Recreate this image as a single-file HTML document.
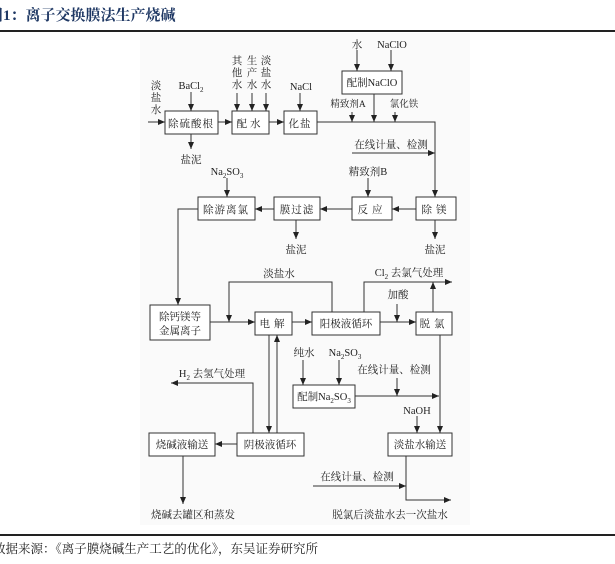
<!DOCTYPE html>
<html><head><meta charset="utf-8"><style>
html,body{margin:0;padding:0;background:#fff;}
body{width:615px;height:559px;position:relative;overflow:hidden;font-family:"Liberation Serif","Noto Serif CJK SC",serif;}
svg text{font-family:"Liberation Serif","Noto Serif CJK SC",serif;fill:#222;font-size:10.5px;}
</style></head><body>
<svg width="615" height="559" viewBox="0 0 615 559" xmlns="http://www.w3.org/2000/svg">
<defs><marker id="a" markerWidth="8" markerHeight="8" refX="7" refY="4" orient="auto" markerUnits="userSpaceOnUse"><path d="M0,1 L7,4 L0,7 Z" fill="#222"/></marker></defs>
<text x="-12" y="20" style="font-size:15px;font-weight:bold;fill:#1f3864">图1：离子交换膜法生产烧碱</text>
<rect x="0" y="30" width="615" height="2" fill="#222"/>
<rect x="140" y="33" width="330" height="492" fill="#fafafa"/>
<rect x="0" y="534" width="615" height="2" fill="#222"/>
<text x="-7" y="553" style="font-size:12.5px">数据来源：《离子膜烧碱生产工艺的优化》，东吴证券研究所</text>
<g fill="#fff" stroke="#333" stroke-width="1">
<rect x="165" y="111" width="53" height="23"/><rect x="232" y="111" width="37" height="23"/><rect x="284" y="111" width="33" height="23"/>
<rect x="342" y="71" width="60" height="23"/>
<rect x="416" y="197" width="40" height="23"/><rect x="352" y="197" width="40" height="23"/><rect x="274" y="197" width="46" height="23"/><rect x="198" y="197" width="57" height="23"/>
<rect x="150" y="305" width="60" height="35"/><rect x="255" y="312" width="37" height="23"/><rect x="312" y="312" width="68" height="23"/><rect x="416" y="312" width="36" height="23"/>
<rect x="293" y="385" width="62" height="23"/>
<rect x="149" y="433" width="66" height="23"/><rect x="237" y="433" width="67" height="23"/><rect x="388" y="433" width="64" height="23"/>
</g>
<g fill="none" stroke="#333" stroke-width="1">
<line x1="148" y1="122" x2="165" y2="122" marker-end="url(#a)"/>
<line x1="218" y1="122" x2="232" y2="122" marker-end="url(#a)"/>
<line x1="269" y1="122" x2="284" y2="122" marker-end="url(#a)"/>
<polyline points="317,122 435,122 435,197" marker-end="url(#a)"/>
<line x1="191" y1="92" x2="191" y2="111" marker-end="url(#a)"/>
<line x1="237" y1="93" x2="237" y2="111" marker-end="url(#a)"/>
<line x1="252" y1="93" x2="252" y2="111" marker-end="url(#a)"/>
<line x1="266" y1="93" x2="266" y2="111" marker-end="url(#a)"/>
<line x1="300" y1="93" x2="300" y2="111" marker-end="url(#a)"/>
<line x1="357" y1="50" x2="357" y2="71" marker-end="url(#a)"/>
<line x1="391" y1="50" x2="391" y2="71" marker-end="url(#a)"/>
<line x1="352" y1="112" x2="352" y2="122" marker-end="url(#a)"/>
<line x1="374" y1="94" x2="374" y2="122" marker-end="url(#a)"/>
<line x1="395" y1="112" x2="395" y2="122" marker-end="url(#a)"/>
<line x1="191" y1="134" x2="191" y2="149" marker-end="url(#a)"/>
<line x1="352" y1="153" x2="435" y2="153" marker-end="url(#a)"/>
<line x1="368" y1="178" x2="368" y2="197" marker-end="url(#a)"/>
<line x1="227" y1="178" x2="227" y2="197" marker-end="url(#a)"/>
<line x1="416" y1="209" x2="392" y2="209" marker-end="url(#a)"/>
<line x1="352" y1="209" x2="320" y2="209" marker-end="url(#a)"/>
<line x1="274" y1="209" x2="255" y2="209" marker-end="url(#a)"/>
<line x1="296" y1="220" x2="296" y2="239" marker-end="url(#a)"/>
<line x1="435" y1="220" x2="435" y2="239" marker-end="url(#a)"/>
<polyline points="198,209 178,209 178,305" marker-end="url(#a)"/>
<line x1="210" y1="322" x2="255" y2="322" marker-end="url(#a)"/>
<line x1="292" y1="322" x2="312" y2="322" marker-end="url(#a)"/>
<line x1="380" y1="322" x2="416" y2="322" marker-end="url(#a)"/>
<polyline points="332,312 332,282 229,282 229,322" marker-end="url(#a)"/>
<line x1="397" y1="304" x2="397" y2="322" marker-end="url(#a)"/>
<polyline points="364,312 364,282 452,282" marker-end="url(#a)"/>
<line x1="433" y1="312" x2="433" y2="282" marker-end="url(#a)"/>
<line x1="269" y1="335" x2="269" y2="433" marker-end="url(#a)"/>
<line x1="277" y1="433" x2="277" y2="335" marker-end="url(#a)"/>
<line x1="237" y1="444" x2="215" y2="444" marker-end="url(#a)"/>
<polyline points="253,433 253,383 171,383" marker-end="url(#a)"/>
<line x1="183" y1="456" x2="183" y2="504" marker-end="url(#a)"/>
<line x1="303" y1="360" x2="303" y2="385" marker-end="url(#a)"/>
<line x1="339" y1="360" x2="339" y2="385" marker-end="url(#a)"/>
<line x1="355" y1="396" x2="439" y2="396" marker-end="url(#a)"/>
<line x1="397" y1="378" x2="397" y2="396" marker-end="url(#a)"/>
<line x1="440" y1="335" x2="440" y2="433" marker-end="url(#a)"/>
<line x1="417" y1="416" x2="417" y2="433" marker-end="url(#a)"/>
<polyline points="406,456 406,500 451,500" marker-end="url(#a)"/>
<line x1="313" y1="486" x2="406" y2="486" marker-end="url(#a)"/>
</g>
<g style="font-size:11px">
<text x="191" y="127" text-anchor="middle" letter-spacing="1">除硫酸根</text>
<text x="250" y="127" text-anchor="middle" letter-spacing="3">配水</text>
<text x="300" y="127" text-anchor="middle" letter-spacing="1">化盐</text>
<text x="372" y="86" text-anchor="middle">配制NaClO</text>
<text x="436" y="213" text-anchor="middle" letter-spacing="4">除镁</text>
<text x="372" y="213" text-anchor="middle" letter-spacing="4">反应</text>
<text x="297" y="213" text-anchor="middle" letter-spacing="1">膜过滤</text>
<text x="226" y="213" text-anchor="middle" letter-spacing="1">除游离氯</text>
<text x="180" y="320" text-anchor="middle">除钙镁等</text>
<text x="180" y="334" text-anchor="middle">金属离子</text>
<text x="274" y="327" text-anchor="middle" letter-spacing="4">电解</text>
<text x="346" y="327" text-anchor="middle">阳极液循环</text>
<text x="434" y="327" text-anchor="middle" letter-spacing="4">脱氯</text>
<text x="324" y="400" text-anchor="middle">配制Na<tspan font-size="7" dy="3">2</tspan><tspan dy="-3">SO</tspan><tspan font-size="7" dy="3">3</tspan></text>
<text x="182" y="448" text-anchor="middle">烧碱液输送</text>
<text x="270" y="448" text-anchor="middle">阴极液循环</text>
<text x="420" y="448" text-anchor="middle">淡盐水输送</text>
</g>
<g>
<text x="156" y="89" text-anchor="middle">淡</text><text x="156" y="101" text-anchor="middle">盐</text><text x="156" y="113" text-anchor="middle">水</text>
<text x="191" y="89" text-anchor="middle">BaCl<tspan font-size="7" dy="3">2</tspan></text>
<text x="237" y="64" text-anchor="middle">其</text><text x="237" y="76" text-anchor="middle">他</text><text x="237" y="88" text-anchor="middle">水</text>
<text x="252" y="64" text-anchor="middle">生</text><text x="252" y="76" text-anchor="middle">产</text><text x="252" y="88" text-anchor="middle">水</text>
<text x="266" y="64" text-anchor="middle">淡</text><text x="266" y="76" text-anchor="middle">盐</text><text x="266" y="88" text-anchor="middle">水</text>
<text x="301" y="90" text-anchor="middle">NaCl</text>
<text x="357" y="48" text-anchor="middle">水</text>
<text x="392" y="48" text-anchor="middle">NaClO</text>
<text x="348" y="107" text-anchor="middle" style="font-size:9.5px">精致剂A</text>
<text x="404" y="107" text-anchor="middle" style="font-size:9.5px">氯化铁</text>
<text x="191" y="163" text-anchor="middle">盐泥</text>
<text x="391" y="148" text-anchor="middle">在线计量、检测</text>
<text x="368" y="175" text-anchor="middle">精致剂B</text>
<text x="227" y="175" text-anchor="middle">Na<tspan font-size="7" dy="3">2</tspan><tspan dy="-3">SO</tspan><tspan font-size="7" dy="3">3</tspan></text>
<text x="296" y="253" text-anchor="middle">盐泥</text>
<text x="435" y="253" text-anchor="middle">盐泥</text>
<text x="279" y="277" text-anchor="middle">淡盐水</text>
<text x="409" y="276" text-anchor="middle">Cl<tspan font-size="7" dy="3">2</tspan><tspan dy="-3"> 去氯气处理</tspan></text>
<text x="398" y="298" text-anchor="middle">加酸</text>
<text x="304" y="356" text-anchor="middle">纯水</text>
<text x="345" y="356" text-anchor="middle">Na<tspan font-size="7" dy="3">2</tspan><tspan dy="-3">SO</tspan><tspan font-size="7" dy="3">3</tspan></text>
<text x="394" y="373" text-anchor="middle">在线计量、检测</text>
<text x="212" y="377" text-anchor="middle">H<tspan font-size="7" dy="3">2</tspan><tspan dy="-3"> 去氢气处理</tspan></text>
<text x="417" y="414" text-anchor="middle">NaOH</text>
<text x="357" y="480" text-anchor="middle">在线计量、检测</text>
<text x="193" y="518" text-anchor="middle">烧碱去罐区和蒸发</text>
<text x="390" y="518" text-anchor="middle">脱氯后淡盐水去一次盐水</text>
</g>
</svg>
</body></html>
